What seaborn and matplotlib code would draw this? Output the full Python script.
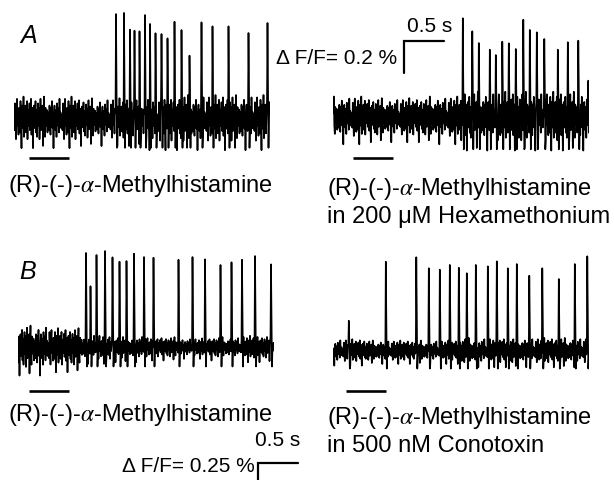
import numpy as np
import matplotlib
matplotlib.use('Agg')
import matplotlib.pyplot as plt
import seaborn as sns

sns.set_style('white')
plt.rcParams['font.family'] = ['Liberation Sans', 'DejaVu Sans']
plt.rcParams['mathtext.fontset'] = 'stix'
plt.rcParams['text.color'] = 'black'

# sampling of the optical traces (s) and trace length
dt = 1 / 160
duration = 3.2

noise_pattern = [0.2, -0.5, 0.7, -0.1, -0.9, 0.4, 0.9, -0.3, 0.1, -0.7, 0.5, 0.3,
                 -0.6, 0.8, -0.2, -1.3, 0.6, 0.0, -0.4, 1.0, -0.8, 0.3, -0.1, 0.6,
                 -0.6, 0.2, 0.8, -0.9, 0.4, -0.3, 0.1, 0.7, -0.5, -0.2, 0.9, -0.7,
                 0.3, 0.5, -1.3, 0.2, 0.6, -0.4, -0.1, 0.8, -0.6, 0.4, -0.8, 0.0,
                 0.7, -0.3, 0.5, -0.9, 0.1, 0.9, -0.5, 0.3, -0.2, 0.6, -1.2, 0.2,
                 1.0, -0.4, -0.8, 0.5, 0.1, -0.3, 0.4, -0.6, 0.3, 0.2, -0.5, 0.6,
                 -0.2, -0.7, 0.5, 0.0, 0.8, -0.4, 0.2, -1.3, 0.3, 0.6, -0.1, -0.5,
                 0.4, -0.8, 0.7, 0.1, -0.3, 0.5, -0.6, 0.9, -0.2, 0.3, -0.4, 0.0]

# A, control: spike times (s) and peak dF/F (%)
a1_times = [1.275, 1.375, 1.45, 1.504, 1.566, 1.6375, 1.70, 1.771, 1.841, 1.916,
            2.004, 2.096, 2.191, 2.346, 2.479, 2.684, 2.934, 3.171]
a1_peaks = [0.656, 0.663, 0.558, 0.552, 0.548, 0.65, 0.594, 0.536, 0.531, 0.504,
            0.608, 0.556, 0.396, 0.604, 0.579, 0.579, 0.5375, 0.6]
a1_noise = [0.14, 0.14, 0.13, 0.13, 0.15, 0.15, 0.15, 0.15]

# A, in hexamethonium
a2_times = [1.6175, 1.7375, 1.821, 1.959, 2.034, 2.1125, 2.1925, 2.284, 2.375, 2.459,
            2.5425, 2.6375, 2.805, 2.93, 3.0625, 3.1875]
a2_peaks = [0.619, 0.5375, 0.464, 0.4225, 0.389, 0.4725, 0.4625, 0.427, 0.61, 0.546,
            0.531, 0.489, 0.4225, 0.469, 0.479, 0.229]
a2_noise = [0.13, 0.12, 0.12, 0.13, 0.16, 0.16, 0.16, 0.16]

# B, control
b1_times = [0.85, 0.909, 0.984, 1.0875, 1.179, 1.266, 1.359, 1.45, 1.575, 1.696,
            2.009, 2.184, 2.3375, 2.534, 2.666, 2.8, 2.9625, 3.1625]
b1_peaks = [0.737, 0.477, 0.721, 0.752, 0.703, 0.669, 0.674, 0.731, 0.705, 0.7,
            0.684, 0.705, 0.6875, 0.643, 0.664, 0.684, 0.713, 0.648]
b1_noise = [0.17, 0.15, 0.1, 0.09, 0.08, 0.07, 0.08, 0.09]

# B, in conotoxin
b2_times = [0.196, 0.659, 1.0375, 1.1925, 1.33, 1.455, 1.5675, 1.6675, 1.784, 1.93,
            2.0425, 2.18, 2.296, 2.45, 2.6125, 2.8175, 3.0175, 3.175]
b2_peaks = [0.234, 0.695, 0.73, 0.644, 0.633, 0.67, 0.648, 0.605, 0.67, 0.659,
            0.698, 0.644, 0.677, 0.586, 0.644, 0.56, 0.677, 0.7375]
b2_noise = [0.09, 0.08, 0.08, 0.08, 0.1, 0.1, 0.1, 0.1]

drug_onsets = [0.1875, 0.246, 0.1375, 0.159]
drug_length = 0.5
scale_t = 0.5
scale_a = 0.2
scale_b = 0.25

labels = ['(R)-(-)-$\\alpha$-Methylhistamine',
          '(R)-(-)-$\\alpha$-Methylhistamine\nin 200 \u03bcM Hexamethonium',
          '(R)-(-)-$\\alpha$-Methylhistamine',
          '(R)-(-)-$\\alpha$-Methylhistamine\nin 500 nM Conotoxin']


def make_trace(times, peaks, env, shift, dip):
    n = int(round(duration / dt))
    t = np.arange(n) * dt
    pat = np.roll(np.array(noise_pattern), shift)
    base = np.resize(pat, n)
    seg = np.minimum((t / 0.4).astype(int), len(env) - 1)
    y = base * np.array(env)[seg]
    for ts, pk in zip(times, peaks):
        i = min(int(round(ts / dt)), n - 1)
        y[i] = pk
        if i + 2 < n:
            y[i + 1] = 0.4 * pk
            y[i + 2] = dip
    return t, y


W, H = 614, 481
fig = plt.figure(figsize=(W / 100, H / 100), dpi=100)


def trace_axes(x0, base, ppp):
    # axes placed in pixel units; 80 px per second
    top, bot = base - 130, base + 50
    ax = fig.add_axes([x0 / W, 1 - bot / H, duration * 80 / W, (bot - top) / H])
    ax.set_xlim(0, duration)
    ax.set_ylim(-50 / ppp, 130 / ppp)
    ax.axis('off')
    return ax


panels = [
    (14, 120, 160, a1_times, a1_peaks, a1_noise, 0, -0.18),
    (333.3, 118.3, 160, a2_times, a2_peaks, a2_noise, 37, -0.2),
    (18, 348.3, 128, b1_times, b1_peaks, b1_noise, 61, -0.15),
    (333.3, 351.7, 128, b2_times, b2_peaks, b2_noise, 19, -0.14),
]
bar_px = [159, 159, 392, 392]

axes = []
for k, (x0, base, ppp, tt, pp, env, sh, dip) in enumerate(panels):
    ax = trace_axes(x0, base, ppp)
    t, y = make_trace(tt, pp, env, sh, dip)
    sns.lineplot(x=t, y=y, ax=ax, color='black', lw=1.2, estimator=None, sort=False)
    yb = (base - bar_px[k]) / ppp
    ax.plot([drug_onsets[k], drug_onsets[k] + drug_length], [yb, yb],
            color='black', lw=1.9, solid_capstyle='butt', clip_on=False)
    axes.append(ax)

# scale bar, panel A
ax = axes[1]
sx, sy = (404 - 333.3) / 80, (118.3 - 41.7) / 160
ax.plot([sx + scale_t, sx, sx], [sy, sy, sy - scale_a], color='black', lw=1.6,
        solid_joinstyle='miter', clip_on=False)

# scale bar, panel B
ax = axes[2]
sx, sy = (258 - 18) / 80, (348.3 - 464) / 128
ax.plot([sx + scale_t, sx, sx], [sy, sy, sy - scale_b], color='black', lw=1.6,
        solid_joinstyle='miter', clip_on=False)


def ftext(x, y, s, **kw):
    fig.text(x / W, 1 - y / H, s, va='center', **kw)


ftext(20, 36, 'A', fontsize=18, style='italic')
ftext(19, 272, 'B', fontsize=18, style='italic')

ftext(8, 186, labels[0], fontsize=17)
ftext(327, 202, labels[1], fontsize=17, linespacing=1.2)
ftext(8, 415, labels[2], fontsize=17)
ftext(327, 431, labels[3], fontsize=17, linespacing=1.2)

ftext(452, 27, '0.5 s', fontsize=15, ha='right')
ftext(397, 59, '\u0394 F/F= 0.2 %', fontsize=15, ha='right')
ftext(300, 441, '0.5 s', fontsize=15, ha='right')
ftext(255, 467, '\u0394 F/F= 0.25 %', fontsize=15, ha='right')

fig.savefig('out.png', dpi=100)
